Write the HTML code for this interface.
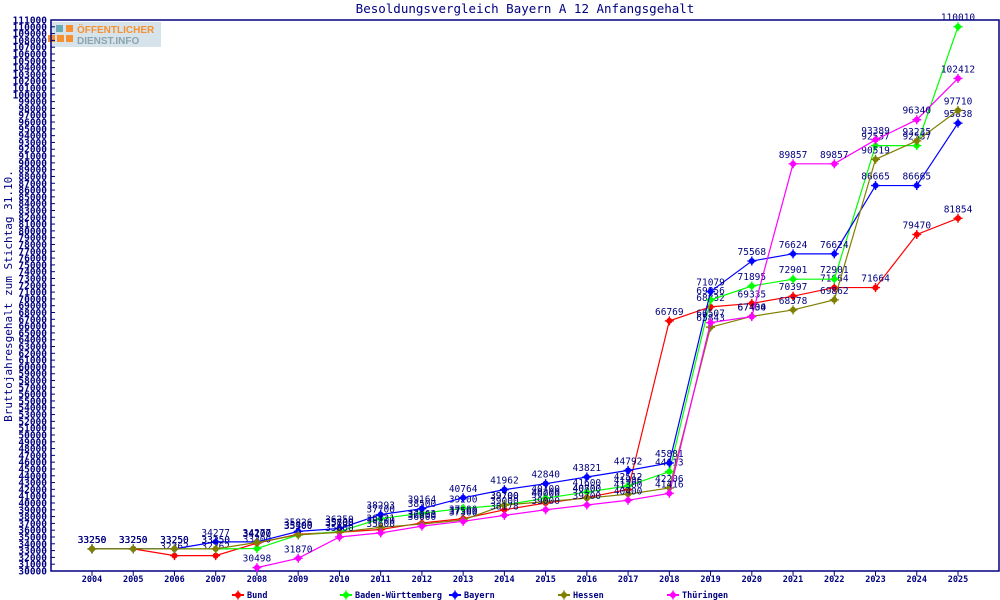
<!DOCTYPE html>
<html><head><meta charset="utf-8">
<style>
body{margin:0;background:#fff;}
svg{display:block;font-family:"DejaVu Sans Mono","Liberation Mono",monospace;}
</style></head>
<body>
<svg id="chart" width="1000" height="600" viewBox="0 0 1000 600">
<text x="525" y="13" text-anchor="middle" font-size="12.5" fill="#000080">Besoldungsvergleich Bayern A 12 Anfangsgehalt</text>
<text transform="translate(12,296) rotate(-90)" text-anchor="middle" font-size="11" fill="#000080">Bruttojahresgehalt zum Stichtag 31.10.</text>
<g>
<rect x="50" y="22" width="111" height="25" fill="#d6e3ea"/>
<rect x="56" y="25" width="7" height="7" fill="#6aa9b8"/>
<rect x="66" y="25" width="7" height="7" fill="#f7902f"/>
<rect x="48" y="35" width="7" height="7" fill="#f7902f"/>
<rect x="57" y="35" width="7" height="7" fill="#f7902f"/>
<rect x="66" y="35" width="7" height="7" fill="#f7902f"/>
<text x="77" y="33" font-family="Liberation Sans,sans-serif" font-weight="bold" font-size="10" fill="#f7902f">ÖFFENTLICHER</text>
<text x="77" y="44" font-family="Liberation Sans,sans-serif" font-weight="bold" font-size="10" fill="#8aa4b0">DIENST.INFO</text>
</g>
<g id="axes"></g>
<g id="series"></g>
<g id="legend"></g>
</svg>
<script>
const years = ["2004","2005","2006","2007","2008","2009","2010","2011","2012","2013","2014","2015","2016","2017","2018","2019","2020","2021","2022","2023","2024","2025"];
const bund = [33250,33250,32262,32262,34100,35400,35700,36100,37063,37700,39000,40000,40800,41986,66769,68832,69335,70397,71664,71664,79470,81854];
const bw = [33250,33250,33250,33250,33300,35300,35800,37700,38500,39200,39700,40700,41600,42512,44613,69856,71895,72901,72901,92537,92537,110010];
const bayern = [33250,33250,33250,34277,34277,35826,36250,38293,39164,40764,41962,42840,43821,44792,45881,71079,75568,76624,76624,86665,86665,95838];
const hessen = [33250,33250,33250,33250,34200,35300,35700,36421,36900,37500,39700,40200,40700,41300,42206,65843,67434,68378,69862,90519,93235,97710];
const thueringen = [null,null,null,null,30498,31870,35000,35600,36600,37300,38178,39000,39700,40400,41416,66507,67400,89857,89857,93389,96340,102412];
const seriesNames = ["Bund","Baden-Württemberg","Bayern","Hessen","Thüringen"];
const seriesColors = ["#ff0000","#00ff00","#0000ff","#808000","#ff00ff"];
const yMin = 30000, yMax = 111000, yStep = 1000;

const L=51,R=999,T=20,B=571;
const NS="http://www.w3.org/2000/svg";
function xS(i){return 92 + i*(958-92)/(years.length-1);}
function yS(v){return B - (v-yMin)/(yMax-yMin)*(B-T);}
function mk(tag,attrs,parent){const e=document.createElementNS(NS,tag);for(const k in attrs)e.setAttribute(k,attrs[k]);parent.appendChild(e);return e;}
const axes=document.getElementById('axes');
const frame=mk('rect',{x:L,y:T,width:R-L,height:B-T,fill:'none',stroke:'#000080','stroke-width':1.5},axes);


for(let v=yMin;v<=yMax;v+=yStep){
  const y=yS(v);
  const t=mk('line',{x1:L,x2:L+4,y1:y,y2:y,stroke:'#000080'},axes);
  
  
  const lb=mk('text',{x:L-4,y:y+3.5,'text-anchor':'end','font-size':9.5,'font-weight':'bold',fill:'#000080'},axes);
  lb.textContent=v;
  
  
}
years.forEach((yr,i)=>{
  const x=xS(i);
  const t=mk('line',{x1:x,x2:x,y1:B,y2:B+5,stroke:'#000080'},axes);
  
  
  const lb=mk('text',{x:x,y:B+11,'text-anchor':'middle','font-size':8.5,'font-weight':'bold',fill:'#000080'},axes);
  lb.textContent=yr;
  
  
});
function marker(parent,x,y,c){
  mk('circle',{cx:x,cy:y,r:3,fill:c},parent);
  mk('line',{x1:x-4.5,x2:x+4.5,y1:y,y2:y,stroke:c,'stroke-width':1.4},parent);
  mk('line',{x1:x,x2:x,y1:y-4.5,y2:y+4.5,stroke:c,'stroke-width':1.4},parent);
}
const sg=document.getElementById('series');
const allData=[bund,bw,bayern,hessen,thueringen];
allData.forEach((data,si)=>{
  const c=seriesColors[si];
  const g=mk('g',{},sg);
  
  
  let d='';
  data.forEach((v,i)=>{if(v==null)return;d+=(d?'L':'M')+xS(i)+' '+yS(v);});
  const p=mk('path',{d:d,fill:'none',stroke:c,'stroke-width':1.2},g);
  
  
  data.forEach((v,i)=>{
    if(v==null)return;
    marker(g,xS(i),yS(v),c);
    const lb=mk('text',{x:xS(i),y:yS(v)-6,'text-anchor':'middle','font-size':9.5,fill:'#000080'},g);
    lb.textContent=v;
    
    
  });
});
const lg=document.getElementById('legend');
const lx=[232,340,449,558,667];
seriesNames.forEach((n,i)=>{
  const g=mk('g',{},lg);
  
  
  mk('line',{x1:lx[i],x2:lx[i]+12,y1:595,y2:595,stroke:seriesColors[i],'stroke-width':2},g);
  marker(g,lx[i]+6,595,seriesColors[i]);
  const t=mk('text',{x:lx[i]+15,y:598,'font-size':8.5,'font-weight':'bold',fill:'#000080'},g);
  t.textContent=n;
});
</script>
</body></html>
